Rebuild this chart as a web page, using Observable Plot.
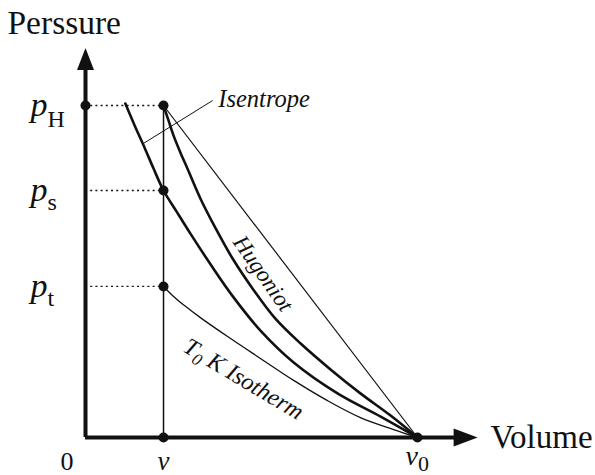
<!DOCTYPE html>
<html>
<head>
<meta charset="utf-8">
<script src="https://cdn.jsdelivr.net/npm/d3@7"></script>
<script src="https://cdn.jsdelivr.net/npm/@observablehq/plot@0.6"></script>
<style>
  html, body { margin: 0; padding: 0; background: #fff; }
  svg { display: block; }
</style>
</head>
<body>
<script>
// ---- data (volume normalised to v0 = 1, pressure normalised to pH = 1) ----
const v0 = 1;
const vState = 0.235;
const pH = 1, pS = 0.744, pT = 0.455;

const pLevels = [pH, pS, pT];
const pLabels = ["p_H", "p_s", "p_t"];
const vTicks = [0, vState, v0];
const vLabels = ["0", "v", "v_0"];

const hugoniotV = [0.235, 0.250, 0.265, 0.286, 0.307, 0.346, 0.392, 0.443, 0.503, 0.572, 0.648, 0.738, 0.828, 0.919, 1.000];
const hugoniotP = [1.000, 0.955, 0.910, 0.858, 0.810, 0.720, 0.630, 0.539, 0.449, 0.358, 0.283, 0.205, 0.133, 0.066, 0.000];

const isentropeV = [0.120, 0.148, 0.178, 0.205, 0.235, 0.274, 0.316, 0.377, 0.446, 0.527, 0.627, 0.759, 0.889, 1.000];
const isentropeP = [1.006, 0.940, 0.873, 0.810, 0.744, 0.681, 0.614, 0.521, 0.422, 0.322, 0.226, 0.133, 0.063, 0.000];

const isothermV = [0.235, 0.262, 0.301, 0.346, 0.428, 0.527, 0.627, 0.729, 0.828, 0.928, 1.000];
const isothermP = [0.455, 0.428, 0.395, 0.361, 0.304, 0.238, 0.172, 0.111, 0.060, 0.024, 0.000];

// ---- build tables ----
const zip = (xs, ys) => xs.map((x, i) => ({v: x, p: ys[i]}));
const hugoniot = zip(hugoniotV, hugoniotP);
const isentrope = zip(isentropeV, isentropeP);
const isotherm = zip(isothermV, isothermP);
const pTicks = pLevels.map((p, i) => ({p, label: pLabels[i]}));
const vTickRows = vTicks.map((v, i) => ({v, label: vLabels[i]}));
const keyPoints = [
  {v: 0, p: pH}, {v: vState, p: pH}, {v: vState, p: pS}, {v: vState, p: pT},
  {v: vState, p: 0}, {v: v0, p: 0}
];

const INK = "#111";
const serif = "'Liberation Serif', 'Times New Roman', serif";

// filled arrow heads as custom symbols
const arrowUp = {draw(ctx) { ctx.moveTo(0, -11); ctx.lineTo(8.5, 11); ctx.lineTo(-8.5, 11); ctx.closePath(); }};
const arrowRight = {draw(ctx) { ctx.moveTo(12, 0); ctx.lineTo(-12, 9); ctx.lineTo(-12, -9); ctx.closePath(); }};

const svg = Plot.plot({
  width: 595,
  height: 475,
  marginLeft: 85,
  marginRight: 12,
  marginTop: 38.6,
  marginBottom: 38,
  x: {domain: [0, 1.5], axis: null},
  y: {domain: [0, 1.2], axis: null},
  style: {fontFamily: serif, color: INK, background: "#fff"},
  marks: [
    // axes
    Plot.ruleX([0], {y1: 0, y2: 1.125, stroke: INK, strokeWidth: 4}),
    Plot.ruleY([0], {x1: 0, x2: 1.12, stroke: INK, strokeWidth: 4}),
    Plot.dot([{v: 0, p: 1.14}], {x: "v", y: "p", symbol: arrowUp, fill: INK, stroke: null, r: 5}),
    Plot.dot([{v: 1.145, p: 0}], {x: "v", y: "p", symbol: arrowRight, fill: INK, stroke: null, r: 5}),
    // dotted guides
    Plot.ruleY(pTicks, {y: "p", x1: 0, x2: vState, stroke: INK, strokeWidth: 1.3, strokeDasharray: "2,3.2"}),
    // vertical at v
    Plot.ruleX([vState], {y1: 0, y2: pH, stroke: INK, strokeWidth: 1.5}),
    // Rayleigh line
    Plot.link([{v1: vState, p1: pH, v2: v0, p2: 0}], {x1: "v1", y1: "p1", x2: "v2", y2: "p2", stroke: INK, strokeWidth: 1.2}),
    // curves
    Plot.line(isotherm, {x: "v", y: "p", curve: "catmull-rom", stroke: INK, strokeWidth: 1.3}),
    Plot.line(isentrope, {x: "v", y: "p", curve: "catmull-rom", stroke: INK, strokeWidth: 2.6}),
    Plot.line(hugoniot, {x: "v", y: "p", curve: "catmull-rom", stroke: INK, strokeWidth: 2.6}),
    // isentrope leader
    Plot.link([{v1: 0.175, p1: 0.886, v2: 0.383, p2: 1.015}], {x1: "v1", y1: "p1", x2: "v2", y2: "p2", stroke: INK, strokeWidth: 1}),
    // points
    Plot.dot(keyPoints, {x: "v", y: "p", r: 5, fill: INK, stroke: null}),
    // pressure tick labels
    Plot.text(pTicks, {x: -0.166, y: "p", text: "label", textAnchor: "start", fontSize: 34, fontStyle: "italic", fill: INK}),
    // volume tick labels
    Plot.text(vTickRows.slice(0, 1), {x: "v", y: 0, text: "label", fontSize: 26, dy: 24, dx: -12, textAnchor: "end", fill: INK}),
    Plot.text(vTickRows.slice(1, 2), {x: "v", y: 0, text: "label", fontSize: 27, fontStyle: "italic", dy: 24, textAnchor: "middle", fill: INK}),
    Plot.text(vTickRows.slice(2, 3), {x: "v", y: 0, text: "label", fontSize: 28, fontStyle: "italic", dy: 19, dx: -12, textAnchor: "start", fill: INK}),
    // axis titles
    Plot.text(["Perssure"], {x: -0.235, y: 1.247, text: d => d, textAnchor: "start", fontSize: 33.5, fill: INK}),
    Plot.text(["Volume"], {x: 1.22, y: 0, text: d => d, textAnchor: "start", fontSize: 33, fill: INK}),
    // curve labels
    Plot.text(["Isentrope"], {x: 0.400, y: 1.02, text: d => d, textAnchor: "start", fontSize: 24.5, fontStyle: "italic", fill: INK}),
    Plot.text(["Hugoniot"], {x: 0.535, y: 0.494, text: d => d, rotate: 55, fontSize: 23, fontStyle: "italic", fill: INK}),
    Plot.text(["T_0 K Isotherm"], {x: 0.476, y: 0.176, text: d => d, rotate: 31, fontSize: 24, fontStyle: "italic", fill: INK})
  ]
});

// subscript rendering: "a_b rest"
const subStyle = {
  "p_H": {size: 24, dy: 11, style: "normal"},
  "p_s": {size: 24, dy: 9, style: "normal"},
  "p_t": {size: 24, dy: 9, style: "normal"},
  "v_0": {size: 22, dy: 6, style: "normal"},
  "T_0 K Isotherm": {size: 17, dy: 5, style: "italic"}
};
d3.select(svg).selectAll("text").each(function() {
  const t = this.textContent;
  const cfg = subStyle[t];
  if (!cfg) return;
  const m = t.match(/^(.*?)_(\S)(.*)$/);
  const [, base, sub, rest] = m;
  while (this.firstChild) this.removeChild(this.firstChild);
  const el = d3.select(this);
  el.append("tspan").text(base);
  el.append("tspan").attr("font-size", cfg.size).attr("font-style", cfg.style).attr("dy", cfg.dy).text(sub);
  if (rest) el.append("tspan").attr("dy", -cfg.dy).text(rest);
});

document.body.appendChild(svg);
</script>
</body>
</html>
